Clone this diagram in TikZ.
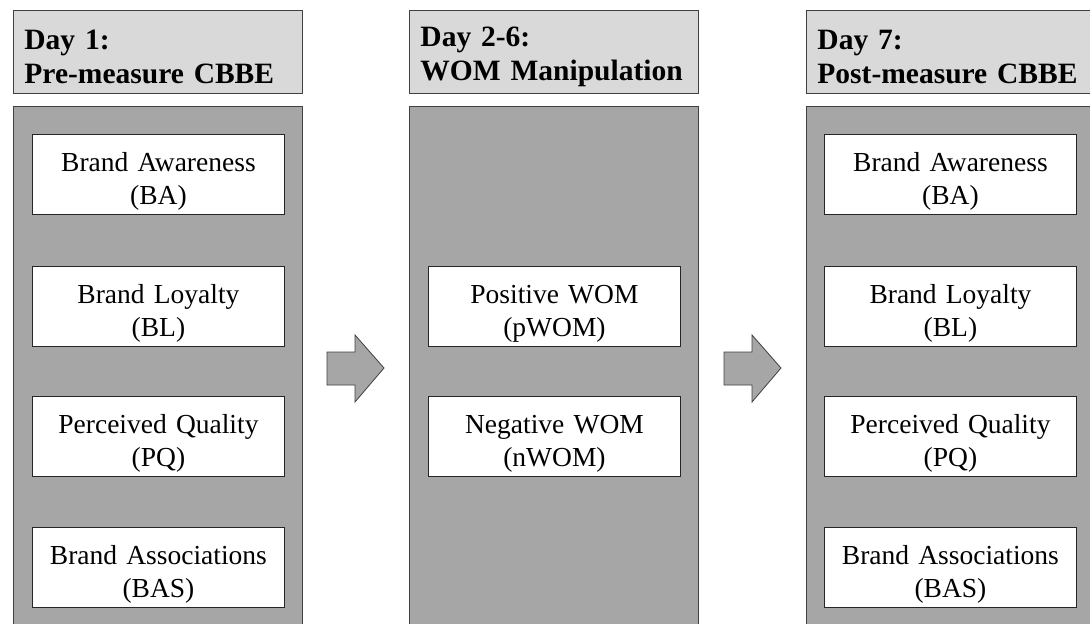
\documentclass[tikz,border=0pt]{standalone}
\usepackage{fontspec}
\setmainfont{Liberation Serif}
\begin{document}
\begin{tikzpicture}[x=1pt,y=-1pt,
  header/.style={draw=black!75,fill=black!15,line width=0.9pt,anchor=north west,
    minimum width=289pt,minimum height=83pt,inner xsep=11pt,inner ysep=0pt,
    text width=267pt,align=left,font=\fontsize{29.5}{34}\selectfont\bfseries,
    execute at begin node={\rule{0pt}{29pt}}},
  panel/.style={draw=black!75,fill=black!35,line width=0.9pt},
  item/.style={draw=black!85,fill=white,line width=0.9pt,anchor=north west,
    minimum width=252pt,minimum height=80pt,inner sep=0pt,text width=252pt,
    align=center,font=\fontsize{27.5}{33}\selectfont,
    execute at begin node={\rule{0pt}{33pt}}},
  blockarrow/.style={draw=black!75,fill=black!35,line width=0.8pt,line join=miter}]
\useasboundingbox (0,0) rectangle (1090,624);
\clip (0,0) rectangle (1090,624);
% headers
\node[header] (h1) at (13,10) {Day 1:\\Pre-measure CBBE};
\node[header] (h2) at (409,10) {Day 2-6:\\WOM Manipulation};
\node[header] (h3) at (806,10) {Day 7:\\Post-measure CBBE};
% panels
\draw[panel] (13,106) rectangle (302,640);
\draw[panel] (409,106) rectangle (698,640);
\draw[panel] (806,106) rectangle (1095,640);
% left items
\node[item] (ba1) at (32,134) {Brand Awareness\\(BA)};
\node[item] (bl1) at (32,266) {Brand Loyalty\\(BL)};
\node[item] (pq1) at (32,396) {Perceived Quality\\(PQ)};
\node[item] (bas1) at (32,527) {Brand Associations\\(BAS)};
% middle items
\node[item] (pw) at (428,266) {Positive WOM\\(pWOM)};
\node[item] (nw) at (428,396) {Negative WOM\\(nWOM)};
% right items
\node[item] (ba2) at (824,134) {Brand Awareness\\(BA)};
\node[item] (bl2) at (824,266) {Brand Loyalty\\(BL)};
\node[item] (pq2) at (824,396) {Perceived Quality\\(PQ)};
\node[item] (bas2) at (824,527) {Brand Associations\\(BAS)};
% block arrows
\draw[blockarrow] (327,352) -- (355,352) -- (355,335) -- (384,368) -- (355,402) -- (355,385) -- (327,385) -- cycle;
\draw[blockarrow] (724,352) -- (752,352) -- (752,335) -- (781,368) -- (752,402) -- (752,385) -- (724,385) -- cycle;
\end{tikzpicture}
\end{document}
